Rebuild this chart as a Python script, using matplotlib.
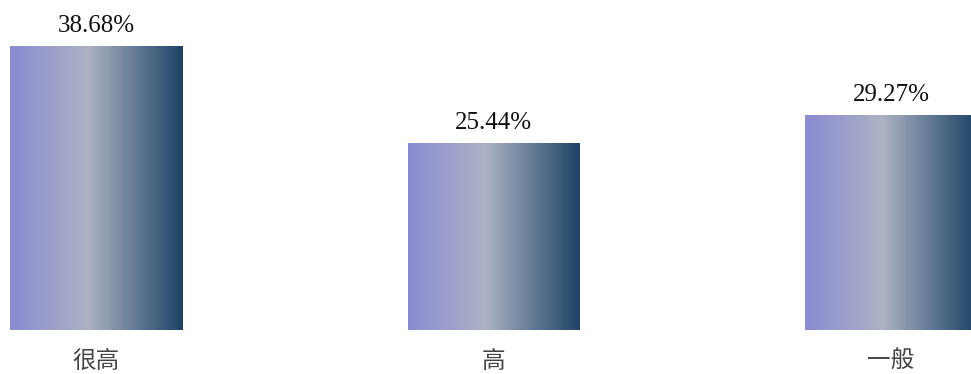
import numpy as np
import matplotlib
matplotlib.use("Agg")
import matplotlib.pyplot as plt
from matplotlib.colors import LinearSegmentedColormap

categories = ["很高", "高", "一般"]
values = [38.68, 25.44, 29.27]
value_labels = ["38.68%", "25.44%", "29.27%"]

fig = plt.figure(figsize=(9.71, 3.74), dpi=100)
ax = fig.add_axes([0, 44 / 374, 1, 330 / 374])
ax.set_xlim(-96 / 397.5, (971 - 96) / 397.5)
ax.set_ylim(0, 330 / 7.34)
ax.axis("off")

cmap = LinearSegmentedColormap.from_list(
    "grad",
    [(0.0, "#8a8bd2"), (0.45, "#adb2c4"), (1.0, "#1c4466")],
)
grad = np.linspace(0, 1, 256).reshape(1, -1)

x = np.arange(len(categories))
bars = ax.bar(x, values, width=172 / 397.5, color="none", edgecolor="none")
for b in bars:
    x0, y0 = b.get_x(), b.get_y()
    w, h = b.get_width(), b.get_height()
    im = ax.imshow(grad, cmap=cmap, aspect="auto", extent=(x0, x0 + w, y0, y0 + h),
                   interpolation="bicubic", zorder=2)
    im.set_clip_path(b)

for xi, v, lab in zip(x, values, value_labels):
    ax.annotate(lab, (xi, v), xytext=(0, 14), textcoords="offset pixels",
                ha="center", va="baseline", fontsize=18, family="Liberation Serif",
                color="#111111")

for xi, c in zip(x, categories):
    ax.annotate(c, (xi, 0), xytext=(0, -31), textcoords="offset pixels",
                ha="center", va="center", fontsize=17, fontweight="light",
                family=["Noto Sans CJK SC", "DejaVu Sans"], color="#444444",
                annotation_clip=False)

fig.savefig("out.png", dpi=100)
